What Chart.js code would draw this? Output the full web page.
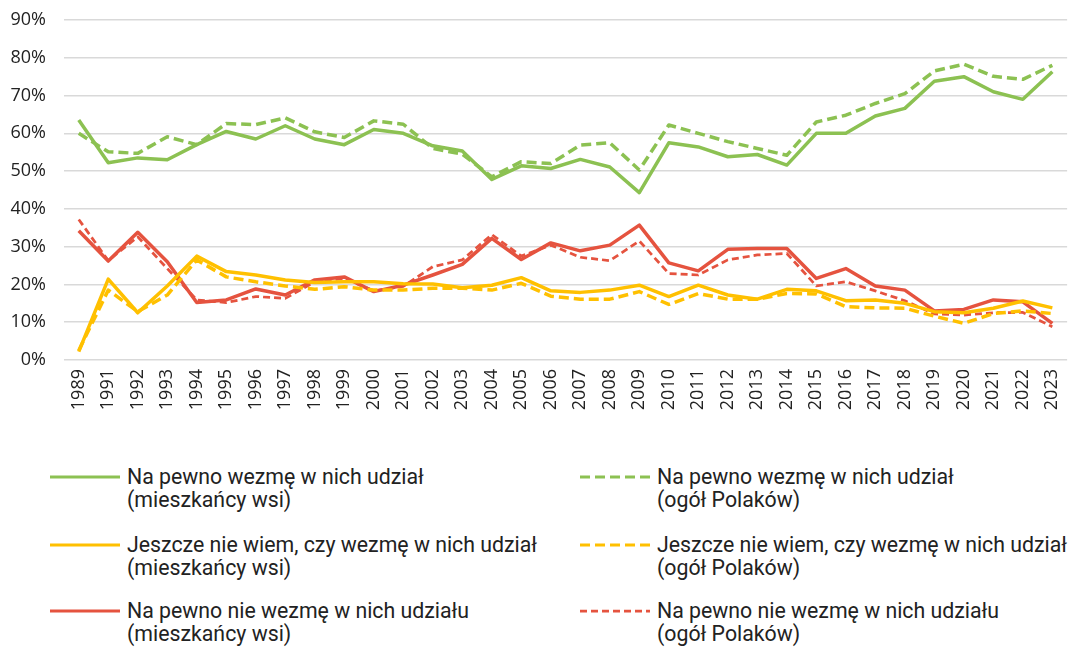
<!DOCTYPE html>
<html>
<head>
<meta charset="utf-8">
<script src="https://cdn.jsdelivr.net/npm/chart.js@4"></script>
<style>
  body { margin: 0; background: #fff; font-family: Roboto, sans-serif; }
  #wrap { position: relative; width: 1083px; height: 648px; }
  #chartBox { position: absolute; left: 0; top: 0; width: 1083px; height: 420px; }
  .item { position: absolute; font-size: 21.3px; line-height: 23px; color: #222; }
  .item svg { position: absolute; left: 0; top: 6px; }
  .item .txt { position: absolute; white-space: nowrap; }
</style>
</head>
<body>
<div id="wrap">
  <div id="chartBox"><canvas id="myChart" width="1083" height="420"></canvas></div>
  <div id="legend"></div>
</div>
<script>
var years = ["1989", "1991", "1992", "1993", "1994", "1995", "1996", "1997", "1998", "1999", "2000",
  "2001", "2002", "2003", "2004", "2005", "2006", "2007", "2008", "2009", "2010", "2011", "2012",
  "2013", "2014", "2015", "2016", "2017", "2018", "2019", "2020", "2021", "2022", "2023"];

// na pewno wezme udzial
var yesRural = [63.5, 52.2, 53.5, 53, 57, 60.5, 58.5, 62, 58.5, 57, 61, 60, 56.7, 55.3, 47.8, 51.4, 50.7,
  53.1, 51.1, 44.3, 57.5, 56.4, 53.8, 54.4, 51.6, 60, 60, 64.6, 66.6, 73.8, 75, 71, 69, 76.3];
var yesAll = [60, 55.1, 54.7, 59.1, 57, 62.6, 62.3, 64.1, 60.4, 58.9, 63.3, 62.4, 56, 54.5, 48.5, 52.5, 52,
  56.9, 57.5, 50.3, 62.2, 60, 57.8, 56, 54.2, 63, 64.8, 67.9, 70.5, 76.5, 78.3, 75.1, 74.3, 78];

// jeszcze nie wiem
var unsureRural = [2.2, 21.4, 12.5, 19.6, 27.5, 23.4, 22.5, 21.2, 20.5, 20.7, 20.7, 20.2, 20.1, 19.1, 19.8,
  21.8, 18.3, 17.9, 18.5, 19.8, 16.8, 19.8, 17.2, 16.1, 18.7, 18.3, 15.7, 15.9, 15, 12.8, 12.5, 13.7, 15.6, 13.8];
var unsureAll = [2.5, 18.5, 12.8, 17.2, 26.5, 22, 20.7, 19.6, 18.7, 19.4, 18.5, 18.5, 19, 19, 18.5, 20.3,
  16.9, 16.1, 16.1, 18.1, 14.7, 17.6, 16.1, 16.1, 17.6, 17.5, 14.1, 13.8, 13.7, 11.6, 9.7, 12.3, 13, 12.3];

// na pewno nie wezme
var noRural = [34.2, 26.2, 33.8, 26, 15.2, 15.9, 18.8, 17.2, 21.2, 22, 18.1, 19.8, 22.5, 25.3, 32.2, 26.6,
  31, 28.9, 30.4, 35.7, 25.7, 23.6, 29.3, 29.5, 29.5, 21.6, 24.2, 19.6, 18.5, 13, 13.4, 15.9, 15.4, 9.7];
var noAll = [37.2, 26.3, 32.6, 24.2, 15.9, 15.2, 16.8, 16.3, 20.7, 21.6, 18.3, 19.5, 24.7, 26.5, 33.2, 27.5,
  30.4, 27.2, 26.3, 31.5, 22.9, 22.5, 26.5, 27.8, 28.2, 19.6, 20.7, 18.3, 15.7, 12.2, 11.9, 12.5, 12.6, 8.8];

var green = "#8cc152";
var yellow = "#ffc000";
var red = "#e5533f";

var series = [
  { label: ["Na pewno wezmę w nich udział", "(mieszkańcy wsi)"], data: yesRural, color: green, dash: [], width: 3.5 },
  { label: ["Na pewno wezmę w nich udział", "(ogół Polaków)"], data: yesAll, color: green, dash: [10, 5], width: 3.5 },
  { label: ["Jeszcze nie wiem, czy wezmę w nich udział", "(mieszkańcy wsi)"], data: unsureRural, color: yellow, dash: [], width: 3.5 },
  { label: ["Jeszcze nie wiem, czy wezmę w nich udział", "(ogół Polaków)"], data: unsureAll, color: yellow, dash: [10, 5], width: 3.5 },
  { label: ["Na pewno nie wezmę w nich udziału", "(mieszkańcy wsi)"], data: noRural, color: red, dash: [], width: 3.5 },
  { label: ["Na pewno nie wezmę w nich udziału", "(ogół Polaków)"], data: noAll, color: red, dash: [7, 4], width: 2.75 }
];

var datasets = series.map(function (s) {
  return {
    label: s.label.join(" "),
    data: s.data,
    borderColor: s.color,
    backgroundColor: s.color,
    borderDash: s.dash,
    borderWidth: s.width,
    borderJoinStyle: "round",
    pointRadius: 0,
    tension: 0,
    fill: false
  };
});
// dashed lines were drawn under the solid ones in the original
var order = [1, 0, 3, 2, 5, 4];

var tickFont = { family: "'Open Sans'", size: 18 };

var ctx = document.getElementById("myChart").getContext("2d");
var myChart = new Chart(ctx, {
  type: "line",
  data: { labels: years, datasets: order.map(function (i) { return datasets[i]; }) },
  options: {
    responsive: false,
    animation: false,
    layout: { padding: { left: 0, right: 3, top: 20, bottom: 0 } },
    plugins: { legend: { display: false }, tooltip: { enabled: false } },
    scales: {
      x: {
        offset: true,
        grid: { display: false, drawTicks: false },
        border: { display: false },
        ticks: {
          minRotation: 90, maxRotation: 90, autoSkip: false, padding: 9,
          color: "#222", font: tickFont
        },
        afterFit: function (scale) { scale.height = 60; }
      },
      y: {
        min: 0, max: 90,
        grid: { color: "#d9d9d9", lineWidth: 1.5, drawTicks: false },
        border: { display: false },
        ticks: {
          stepSize: 10, padding: 18, color: "#222",
          font: tickFont,
          callback: function (value) { return value + "%"; }
        },
        afterFit: function (scale) {
          scale.width = 64;
          scale.paddingTop = 0;
          scale.paddingBottom = 0;
        }
      }
    }
  }
});

// legend, two columns with two-line labels
var legendPos = [
  { x: 50, y: 465 }, { x: 580, y: 465 },
  { x: 50, y: 533 }, { x: 580, y: 533 },
  { x: 50, y: 599 }, { x: 580, y: 599 }
];
var legend = document.getElementById("legend");
series.forEach(function (s, i) {
  var p = legendPos[i];
  var div = document.createElement("div");
  div.className = "item";
  div.style.left = p.x + "px";
  div.style.top = p.y + "px";
  var dashAttr = s.dash.length ? ' stroke-dasharray="' + s.dash.join(",") + '"' : "";
  div.innerHTML = '<svg width="70" height="12"><line x1="0" y1="6" x2="70" y2="6" stroke="' + s.color +
    '" stroke-width="' + Math.min(s.width, 3) + '"' + dashAttr + '/></svg>' +
    '<div class="txt" style="left:77px;top:0">' + s.label[0] + '<br>' + s.label[1] + '</div>';
  legend.appendChild(div);
});
</script>
</body>
</html>
